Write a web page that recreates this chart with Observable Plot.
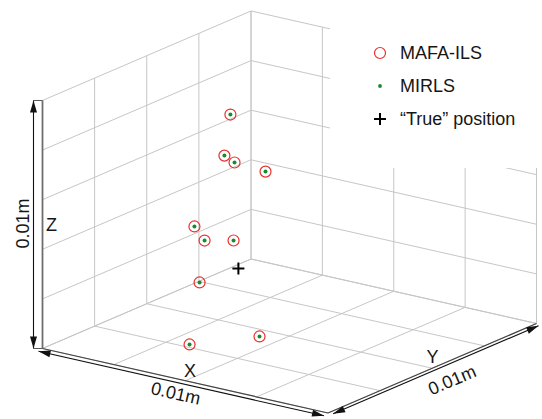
<!DOCTYPE html>
<html><head><meta charset="utf-8">
<script src="https://cdn.jsdelivr.net/npm/d3@7"></script>
<script src="https://cdn.jsdelivr.net/npm/@observablehq/plot@0.6"></script>
<style>
body{margin:0;background:#fff;}
#wrap{position:relative;width:542px;height:419px;overflow:hidden;font-family:"Liberation Sans",Arial,sans-serif;}
#legend{position:absolute;left:330px;top:0;width:212px;height:168px;background:#fff;}
#legend text{font-size:18px;fill:#161616;font-family:"Liberation Sans",Arial,sans-serif;}
</style></head><body>
<div id="wrap"><div id="chart"></div>
<svg id="legend" width="212" height="168">
  <circle cx="50" cy="53" r="5.5" fill="none" stroke="#e8302e" stroke-width="1.2"></circle>
  <text id="l0" x="70" y="59"></text>
  <circle cx="50" cy="86" r="1.9" fill="#1a8a2e"></circle>
  <text id="l1" x="70" y="92"></text>
  <path d="M44,119H56M50,113V125" stroke="#000" stroke-width="2" fill="none"></path>
  <text id="l2" x="70" y="125"></text>
</svg>
</div>
<script>
// ---- data (millimetres inside a 10 mm = 0.01 m cube) ----
const xTicks = [0, 2.5, 5, 7.5, 10];
const yTicks = [0, 2.5, 5, 7.5, 10];
const zTicks = [0, 2, 4, 6, 8, 10];
const mafaX = [2.93, 1.99, 2.71, 4.89, 1.67, 2.39, 2.31, 2.58, 3.69, 5.41];
const mafaY = [5.0, 6.0, 5.5, 4.0, 5.0, 4.5, 6.0, 4.0, 2.0, 3.0];
const mafaZ = [8.39, 6.13, 6.22, 6.96, 3.55, 3.35, 2.79, 1.89, 0.40, 0.81];
const mirlsX = [2.93, 1.99, 2.71, 4.89, 1.67, 2.39, 2.31, 2.58, 3.69, 5.41];
const mirlsY = [5.0, 6.0, 5.5, 4.0, 5.0, 4.5, 6.0, 4.0, 2.0, 3.0];
const mirlsZ = [8.39, 6.13, 6.22, 6.96, 3.55, 3.35, 2.79, 1.89, 0.40, 0.81];
const trueX = [3.21], trueY = [5.0], trueZ = [2.26];
const legendLabels = ["MAFA-ILS", "MIRLS", "\u201cTrue\u201d position"];
const axisNames = ["X", "Y", "Z"];
const spanLabel = "0.01m";
const L = 10; // cube edge, mm

legendLabels.forEach((t, i) => document.getElementById("l" + i).textContent = t);

// ---- oblique 3D view ----
const EX = [1, 0.2259], EY = [0.7303, -0.3135], EZ = [0, -0.8687];
function proj(x, y, z) {
  return [(x * EX[0] + y * EY[0] + z * EZ[0]) / L, (x * EX[1] + y * EY[1] + z * EZ[1]) / L];
}
function seg(a, b) {
  const p = proj(...a), q = proj(...b);
  return {x1: p[0], y1: p[1], x2: q[0], y2: q[1]};
}
const grid = [];
xTicks.forEach(t => grid.push(seg([t, 0, 0], [t, L, 0])));
yTicks.forEach(t => grid.push(seg([0, t, 0], [L, t, 0])));
yTicks.forEach(t => grid.push(seg([0, t, 0], [0, t, L])));
zTicks.forEach(t => grid.push(seg([0, 0, t], [0, L, t])));
xTicks.forEach(t => grid.push(seg([t, L, 0], [t, L, L])));
zTicks.forEach(t => grid.push(seg([0, L, t], [L, L, t])));

const edgeZ = [seg([0, 0, 0], [0, 0, L])];
const edgeFront = [seg([0, 0, 0], [L, 0, 0]), seg([L, 0, 0], [L, L, 0])];

const pts = (X, Y, Z) => X.map((x, i) => { const p = proj(x, Y[i], Z[i]); return {u: p[0], v: p[1]}; });
const mafa = pts(mafaX, mafaY, mafaZ);
const mirls = pts(mirlsX, mirlsY, mirlsZ);
const truth = pts(trueX, trueY, trueZ);
const zEnds = pts([0, 0], [0, 0], [0, L]);

function arrow(a, b) {
  const s = seg(a, b);
  const du = s.x2 - s.x1, dv = s.y2 - s.y1;
  const ang = Math.atan2(du, -dv) * 180 / Math.PI;
  return {line: [s], heads: [{u: s.x2, v: s.y2, r: ang}, {u: s.x1, v: s.y1, r: ang + 180}]};
}
const aZ = arrow([0, 0, 0], [0, 0, L]);
const aX = arrow([0, 0, 0], [L, 0, 0]);
const aY = arrow([L, 0.15, 0], [L, L, 0]);

const headSym = {draw(ctx) { ctx.moveTo(0, 0); ctx.lineTo(3.5, 12); ctx.lineTo(-3.5, 12); ctx.closePath(); }};
const plusSym = {draw(ctx) { ctx.moveTo(-6, 0); ctx.lineTo(6, 0); ctx.moveTo(0, -6); ctx.lineTo(0, 6); }};
const extSym = {draw(ctx) { ctx.moveTo(-9, 0); ctx.lineTo(0, 0); }};

function arrowMarks(a, dx, dy) {
  return [
    Plot.link(a.line, {x1: "x1", y1: "y1", x2: "x2", y2: "y2", stroke: "#111", strokeWidth: 1.1, dx, dy}),
    Plot.dot(a.heads, {x: "u", y: "v", rotate: "r", symbol: headSym, fill: "#111", stroke: "none", dx, dy})
  ];
}

const ang = (v) => Math.atan2(v[1], v[0]) * 180 / Math.PI;
const lab = (p) => ({u: proj(...p)[0], v: proj(...p)[1]});
const fontFamily = '"Liberation Sans", Arial, sans-serif';
const txt = (p, text, opts) => Plot.text([lab(p)], {x: "u", y: "v", text: () => text, fontSize: 18, fill: "#161616", fontFamily, textAnchor: "middle", lineAnchor: "middle", ...opts});

const chart = Plot.plot({
  width: 542, height: 419, margin: 0,
  x: {domain: [-0.1471, 1.7513], range: [0, 542], axis: null},
  y: {domain: [-1.2189, 0.2487], range: [0, 419], axis: null},
  style: {background: "#fff", fontFamily},
  marks: [
    Plot.link(grid, {x1: "x1", y1: "y1", x2: "x2", y2: "y2", stroke: "#c6c6c6", strokeWidth: 1}),
    Plot.link(edgeZ, {x1: "x1", y1: "y1", x2: "x2", y2: "y2", stroke: "#6e6e6e", strokeWidth: 1.8}),
    Plot.link(edgeFront, {x1: "x1", y1: "y1", x2: "x2", y2: "y2", stroke: "#444", strokeWidth: 1.2}),
    Plot.dot(zEnds, {x: "u", y: "v", symbol: extSym, stroke: "#555", strokeWidth: 1, fill: "none"}),
    ...arrowMarks(aZ, -9, 0),
    ...arrowMarks(aX, -4, 2.8),
    ...arrowMarks(aY, 2, 2.2),
    Plot.dot(truth, {x: "u", y: "v", symbol: plusSym, stroke: "#000", strokeWidth: 2, fill: "none"}),
    Plot.dot(mafa, {x: "u", y: "v", r: 5.5, stroke: "#e8302e", strokeWidth: 1.2, fill: "none"}),
    Plot.dot(mirls, {x: "u", y: "v", r: 2, fill: "#1a8a2e", stroke: "none"}),
    txt([5.1, 0, 0], axisNames[0], {dx: 2, dy: -10}),
    txt([4.77, 0, 0], spanLabel, {dx: -3, dy: 14.5, rotate: ang(EX)}),
    txt([L, 5.2, 0], axisNames[1], {dx: -4, dy: -9}),
    txt([L, 5.6, 0], spanLabel, {dx: 7.5, dy: 17.5, rotate: ang(EY)}),
    txt([0, 0, 5], axisNames[2], {dx: 9, dy: 1}),
    txt([0, 0, 5], spanLabel, {dx: -19, dy: -1, rotate: -90})
  ]
});
document.getElementById("chart").appendChild(chart);
</script>
</body></html>
